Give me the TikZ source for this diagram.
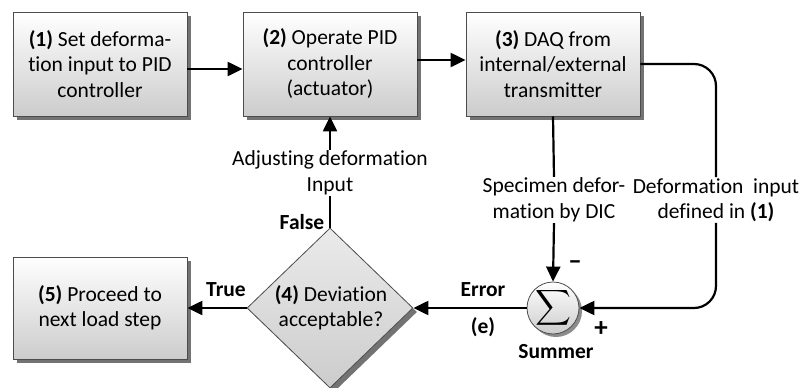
\documentclass[tikz,border=0pt]{standalone}
\usepackage{amsmath}
\usepackage{fontspec}
\setmainfont{Carlito}[Ligatures={NoCommon}]
\usetikzlibrary{arrows.meta,shadows,shapes.geometric}

\newcommand{\mainsize}{\fontsize{21.5}{25.5}\selectfont}
\tikzset{
  box/.style={draw=black!70, line width=0.8pt, top color=white, bottom color=black!20,
    minimum width=174pt, minimum height=104pt, align=center, inner sep=2pt,
    general shadow={fill=black!55, shadow xshift=4pt, shadow yshift=-4pt}},
  decision/.style={draw=black!70, line width=0.8pt, diamond, aspect=1.04, inner sep=0pt,
    top color=black!8, bottom color=black!20,
    minimum width=166pt, minimum height=160pt,
    general shadow={fill=black!55, shadow xshift=4pt, shadow yshift=-4pt}},
  summer/.style={draw=black!70, line width=0.8pt, circle, minimum size=52pt, inner sep=0pt,
    top color=white, bottom color=black!20,
    general shadow={fill=black!45, shadow xshift=3pt, shadow yshift=-3pt}},
  conn/.style={line width=2.2pt, -{Triangle[length=15pt,width=14pt]}},
  plain/.style={line width=2.2pt},
  lbl/.style={align=center, inner sep=1pt},
  tag/.style={font=\mainsize\bfseries, inner sep=1pt},
  sign/.style={font=\fontsize{27}{27}\selectfont\bfseries, inner sep=0pt}
}

\begin{document}
\begin{tikzpicture}[x=1pt,y=-1pt, font=\mainsize]
\useasboundingbox (0,0) rectangle (804,388);

% process blocks
\node[box] (b1) at (100,64) {\textbf{(1)} Set deforma-\\tion input to PID\\controller};
\node[box] (b2) at (330,64) {\textbf{(2)} Operate PID\\controller\\(actuator)};
\node[box] (b3) at (553,64) {\textbf{(3)} DAQ from\\internal/external\\transmitter};
\node[box, minimum height=102pt] (b5) at (100,308) {\textbf{(5)} Proceed to\\next load step};

% decision
\node[decision] (d4) at (330,308) {};
\node[lbl] (d4t) at (331,308) {\textbf{(4)} Deviation\\acceptable?};

% summing junction
\node[summer] (sum) at (553,308) {};
\node (sigma) at (553,308) {\fontsize{26}{26}\selectfont$\displaystyle\sum$};

% connector labels
\node[lbl] (adj) at (330,173) {Adjusting deformation\\Input};
\node[lbl] (spec) at (554,200) {Specimen defor-\\mation by DIC};
\node[lbl] (definp) at (716,200) {Deformation\ \ input\\defined in \textbf{(1)}};

\node[tag] (false) at (302,222) {False};
\node[tag] (true) at (226,290) {True};
\node[tag] (err) at (483,290) {Error};
\node[tag] (e) at (483,327) {(e)};
\node[tag] (summ) at (556,352) {Summer};
\node[sign] (minus) at (575,265) {\textendash};
\node[sign] (plus) at (601,329) {+};

% flow
\draw[conn] ([yshift=-5pt]b1.east) -- ([yshift=-5pt]b2.west);
\draw[conn] ([yshift=4pt]b2.east) -- ([yshift=4pt]b3.west);

\draw[plain] (d4.north) -- (adj.south);
\draw[conn] (adj.north) -- (b2.south);

\draw[plain] (b3.south) -- (spec.north);
\draw[conn] (spec.south) -- (sum.north);

\coordinate (rt) at (716,64);
\coordinate (rb) at (716,308);
\draw[plain, rounded corners=22pt] (b3.east) -- (rt) -- (definp.north);
\draw[conn, rounded corners=22pt] (definp.south) -- (rb) -- (sum.east);

\draw[conn] (sum.west) -- (d4.east);
\draw[conn] (d4.west) -- (b5.east);
\end{tikzpicture}
\end{document}
